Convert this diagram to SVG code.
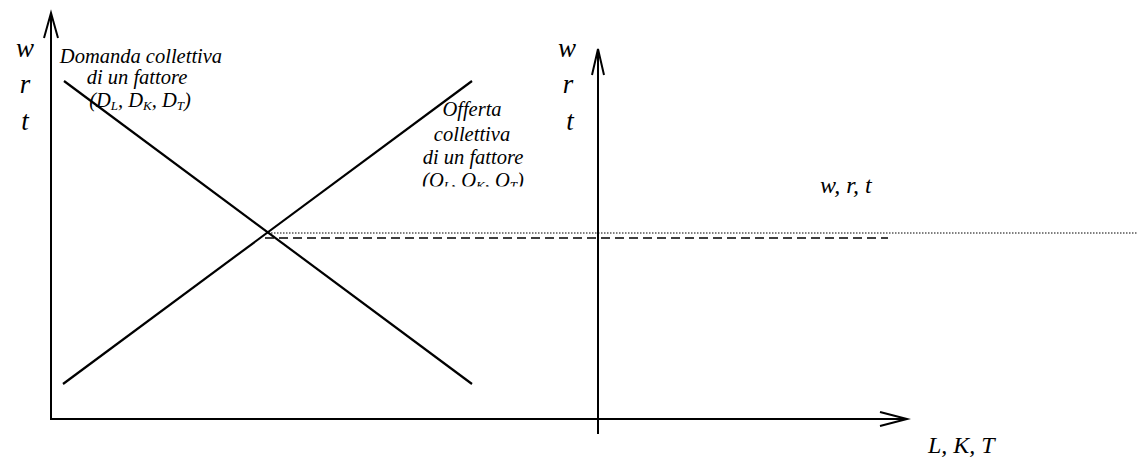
<svg xmlns="http://www.w3.org/2000/svg" width="1137" height="459" viewBox="0 0 1137 459">
<style>
.ax{stroke:#000;stroke-width:2;fill:none}
.cv{stroke:#000;stroke-width:2.2;fill:none}
.t{font-family:'Liberation Serif','Times New Roman',serif;font-style:italic;fill:#000}
.big{font-size:27px}
.sm{font-size:20.5px}
.sub{font-size:13px}
</style>
<defs>
<clipPath id="offClip"><rect x="380" y="90" width="200" height="96.5"/></clipPath>
</defs>
<rect width="1137" height="459" fill="#fff"/>
<g id="connectors">
<g id="axes">
<polyline class="ax" points="51,13 51,419 907,419"/>
<polyline class="ax" points="44,38 51,13 58,38"/>
<polyline class="ax" points="880,412 907,419 880,426"/>
<line class="ax" x1="598" y1="434" x2="598" y2="49"/>
<polyline class="ax" points="592,75 598,49 604,75"/>
</g>
<line id="dotted" x1="268" y1="233" x2="1137" y2="233" stroke="#000" stroke-width="1" stroke-dasharray="1.5,1.5"/>
<line id="dashed" x1="265" y1="238" x2="888" y2="238" stroke="#000" stroke-width="1.6" stroke-dasharray="9,5"/>
</g>
<g id="labels-axis" class="t big" font-family="Liberation Serif, serif" font-style="italic">
<text x="25" y="57" text-anchor="middle">w</text>
<text x="25" y="93" text-anchor="middle">r</text>
<text x="25" y="130" text-anchor="middle">t</text>
<text x="567" y="57" text-anchor="middle">w</text>
<text x="568" y="93" text-anchor="middle">r</text>
<text x="570" y="130" text-anchor="middle">t</text>
<text x="820" y="193" font-size="24">w, r, t</text>
<text x="928" y="453" font-size="24">L, K, T</text>
</g>
<g id="demand-label" class="t sm" text-anchor="middle" font-family="Liberation Serif, serif" font-style="italic">
<text x="141" y="63">Domanda collettiva</text>
<text x="137" y="84">di un fattore</text>
<text x="140" y="107">(D<tspan class="sub" dy="3">L</tspan><tspan dy="-3">, D</tspan><tspan class="sub" dy="3">K</tspan><tspan dy="-3">, D</tspan><tspan class="sub" dy="3">T</tspan><tspan dy="-3">)</tspan></text>
</g>
<g id="supply-label" class="t sm" text-anchor="middle" clip-path="url(#offClip)" font-family="Liberation Serif, serif" font-style="italic">
<text x="472" y="116">Offerta</text>
<text x="472" y="141">collettiva</text>
<text x="473" y="164">di un fattore</text>
<text x="473" y="187">(O<tspan class="sub" dy="3">L</tspan><tspan dy="-3">, O</tspan><tspan class="sub" dy="3">K</tspan><tspan dy="-3">, O</tspan><tspan class="sub" dy="3">T</tspan><tspan dy="-3">)</tspan></text>
</g>
<g id="demand-curve">
<line class="cv" x1="64" y1="81" x2="472" y2="384"/>
</g>
<g id="supply-curve">
<line class="cv" x1="63" y1="384" x2="472" y2="81"/>
</g>
</svg>
